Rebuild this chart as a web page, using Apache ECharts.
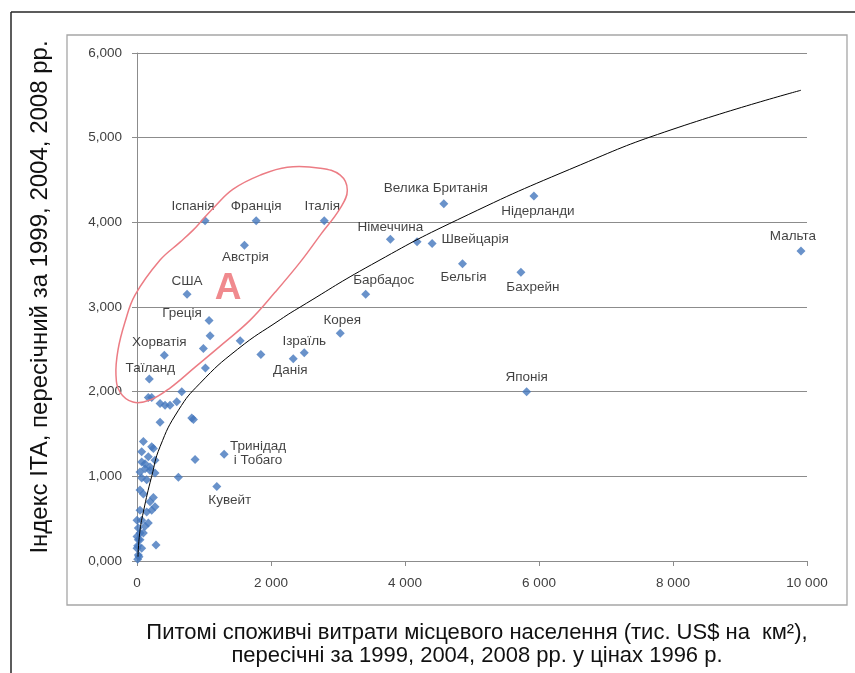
<!DOCTYPE html>
<html><head><meta charset="utf-8">
<script src="https://cdn.jsdelivr.net/npm/echarts@6/dist/echarts.min.js"></script>
<style>html,body{margin:0;padding:0;background:#fff;}#c{width:855px;height:673px;}</style>
</head><body><div id="c"></div>
<script>
// ---- data ----
const countryNames = ['Іспанія','Франція','Італія','Австрія','США','Греція','Хорватія','Таїланд','Ізраїль','Данія','Корея','Барбадос','Німеччина','Велика Британія','Швейцарія','Бельгія','Бахрейн','Нідерланди','Мальта','Японія','Тринідад\nі Тобаго','Кувейт'];
const countryX = [1016,1779,2795,1604,747,1076,408,184,2496,2332,3034,3413,3782,4579,4405,4858,5730,5924,9910,5815,1300,1191];
const countryY = [4.02,4.02,4.02,3.73,3.15,2.84,2.43,2.15,2.46,2.39,2.69,3.15,3.80,4.22,3.75,3.51,3.41,4.31,3.66,2.00,1.26,0.88];
const otherX = [4180,1091,991,1021,1540,1849,169,219,344,419,493,593,668,344,817,842,867,618,284,
  95,70,219,244,70,169,269,120,45,194,120,194,70,145,269,45,95,244,194,269,45,145,219,0,70,169,120,20,95,45,0,20,45,10,70,0,20,30,10];
const otherY = [3.77,2.66,2.51,2.28,2.60,2.44,1.93,1.93,1.86,1.84,1.84,1.88,2.00,1.64,1.69,1.67,1.20,0.99,0.19,
  1.41,1.29,1.35,1.33,1.17,1.23,1.19,1.09,1.05,1.07,1.15,1.11,0.98,0.96,1.04,0.84,0.79,0.75,0.70,0.64,0.60,0.58,0.60,0.48,0.48,0.45,0.41,0.39,0.33,0.33,0.29,0.25,0.25,0.18,0.15,0.15,0.07,0.05,0.02];
const trendX = [15,40,95,219,344,618,942,1500,2137,2437,3500,4783,6622,8000,9910];
const trendY = [0.05,0.33,0.58,1.00,1.35,1.78,2.10,2.50,2.85,3.00,3.50,4.03,4.68,5.10,5.56];
const xTickValues = [0,2000,4000,6000,8000,10000];
const yTickValues = [0,1,2,3,4,5,6];

// hand-drawn outline of group "A" (annotation), in data units
const groupAOutlineX = [2242,2735,3034,3139,3034,2735,2436,2063,1689,1241,867,493,194,-60,-254,-314,-284,-179,-30,344,643,837,987,1166,1435,1839];
const groupAOutlineY = [4.652,4.640,4.557,4.380,4.168,3.849,3.530,3.176,2.845,2.538,2.290,2.043,1.901,1.877,1.995,2.196,2.491,2.822,3.140,3.554,3.766,3.908,4.038,4.191,4.392,4.557];
const groupALabel = 'A';
const groupALabelAt = [1360, 3.21];

// ---- label placement (style only): offset of label centre from the marker ----
const labelOffset = {
  'Іспанія':[-12,-14],'Франція':[0,-14],'Італія':[-2,-14],'Австрія':[1,12],'США':[0,-13],
  'Греція':[-27,-7],'Хорватія':[-5,-13],'Таїланд':[1,-11],'Ізраїль':[0,-11],'Данія':[-3,12],
  'Корея':[2,-13],'Барбадос':[18,-14],'Німеччина':[0,-12],'Велика Британія':[-8,-15],
  'Швейцарія':[43,-4],'Бельгія':[1,13],'Бахрейн':[12,15],'Нідерланди':[4,15],'Мальта':[-8,-15],
  'Японія':[0,-14],'Тринідад\nі Тобаго':[34,-1],'Кувейт':[13,14]
};

const FONT = '"Liberation Sans", Arial, sans-serif';
const BLUE = '#4477bd';
const SYM = 9;

const chart = echarts.init(document.getElementById('c'), null, {renderer:'canvas'});
const thousands = v => String(v).replace(/\B(?=(\d{3})+(?!\d))/g, ' ');

const countryData = countryNames.map((n,i)=>{
  const o = labelOffset[n];
  return {name:n, value:[countryX[i], countryY[i]],
    label:{show:true, formatter:n, position:[SYM/2+o[0], SYM/2+o[1]], align:'center', verticalAlign:'middle'}};
});

const option = {
  animation:false,
  backgroundColor:'#fff',
  grid:{left:137, right:48, top:53, bottom:112, containLabel:false},
  xAxis:{type:'value', min:0, max:10000, interval:2000,
    axisLine:{show:true, lineStyle:{color:'#8c8c8c', width:1}},
    axisTick:{show:true, length:5, lineStyle:{color:'#8c8c8c'}},
    splitLine:{show:false},
    axisLabel:{color:'#404040', fontFamily:FONT, fontSize:13.5, margin:15,
      formatter:v=> xTickValues.includes(v) ? thousands(v) : ''}},
  yAxis:{type:'value', min:0, max:6, interval:1,
    axisLine:{show:true, lineStyle:{color:'#8c8c8c', width:1}},
    axisTick:{show:true, length:5, lineStyle:{color:'#8c8c8c'}},
    splitLine:{show:true, lineStyle:{color:'#8c8c8c', width:1}},
    axisLabel:{color:'#404040', fontFamily:FONT, fontSize:13.5, margin:15,
      formatter:v=> yTickValues.includes(v) ? v.toFixed(3).replace('.',',') : ''}},
  series:[
    {type:'scatter', name:'other', symbol:'diamond', symbolSize:SYM, itemStyle:{color:BLUE},
     data: otherX.map((x,i)=>[x, otherY[i]]), z:2},
    {type:'scatter', name:'countries', symbol:'diamond', symbolSize:SYM, itemStyle:{color:BLUE},
     label:{color:'#111', fontFamily:FONT, fontSize:13.5, lineHeight:14},
     data: countryData, z:3},
    {type:'line', name:'trend', data: trendX.map((x,i)=>[x, trendY[i]]), smooth:0.5,
     showSymbol:false, symbol:'none', lineStyle:{color:'#000', width:1}, z:4}
  ]
};
chart.setOption(option);

const outline = groupAOutlineX.map((x,i)=>chart.convertToPixel({gridIndex:0}, [x, groupAOutlineY[i]]));
const aPos = chart.convertToPixel({gridIndex:0}, groupALabelAt);

chart.setOption({
  graphic:[
    {type:'line', shape:{x1:11,y1:12,x2:855,y2:12}, style:{stroke:'#262626', lineWidth:1.5}, z:10},
    {type:'line', shape:{x1:11,y1:12,x2:11,y2:673}, style:{stroke:'#262626', lineWidth:1.5}, z:10},
    {type:'rect', shape:{x:67,y:35,width:780,height:570}, style:{fill:'none', stroke:'#a6a6a6', lineWidth:1.3}, z:10},
    {type:'polygon', shape:{points:outline, smooth:0.4},
     style:{fill:'none', stroke:'#ec7c84', lineWidth:1.5}, z:10},
    {type:'text', x:aPos[0], y:aPos[1], style:{text:groupALabel, fill:'#f08a8e', font:'bold 37px '+FONT, textAlign:'center', textVerticalAlign:'middle'}, z:10},
    {type:'text', x:40, y:297, rotation:Math.PI/2, style:{text:'Індекс ITA, пересічний за 1999, 2004, 2008 рр.', fill:'#111', font:'24px '+FONT, textAlign:'center', textVerticalAlign:'middle'}, z:10},
    {type:'text', x:477, y:644, style:{text:'Питомі споживчі витрати місцевого населення (тис. US$ на  км²),\nпересічні за 1999, 2004, 2008 рр. у цінах 1996 р.', fill:'#111', font:'22px '+FONT, textAlign:'center', textVerticalAlign:'middle', lineHeight:23}, z:10}
  ]
});
</script></body></html>
